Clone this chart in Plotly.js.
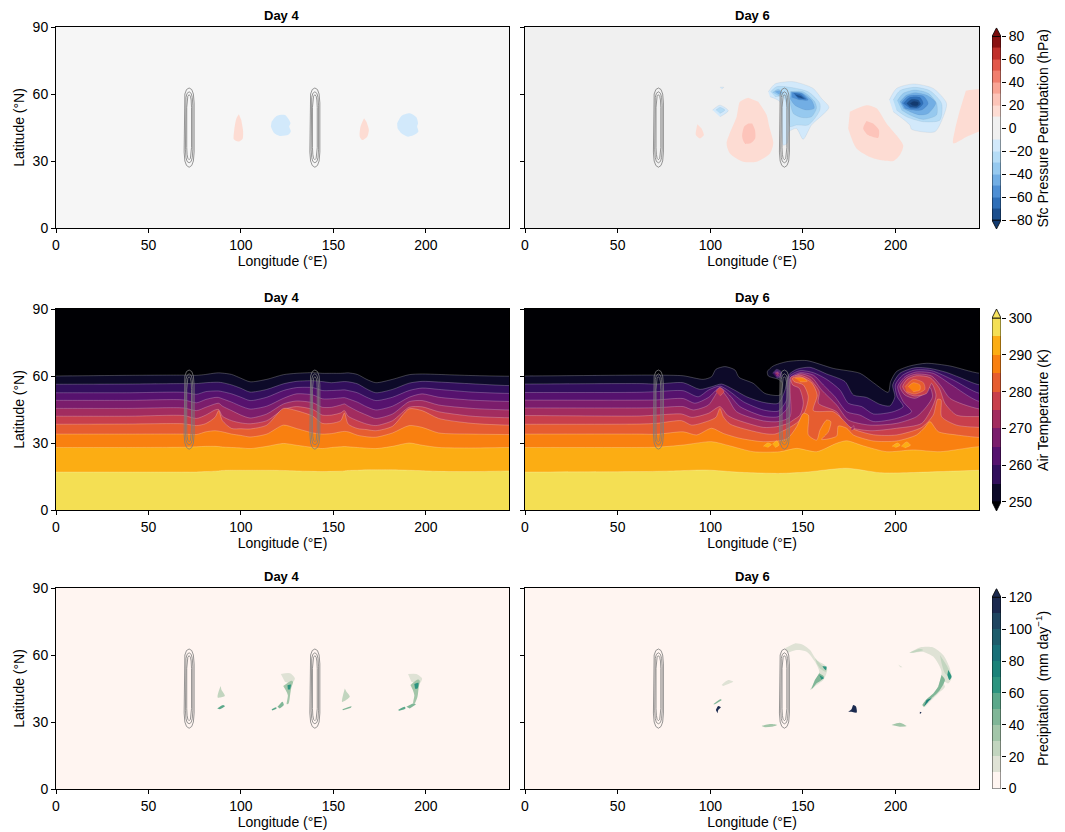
<!DOCTYPE html>
<html><head><meta charset="utf-8">
<script src="https://cdn.plot.ly/plotly-3.0.1.min.js"></script>
<style>html,body{margin:0;padding:0;background:#fff}#chart{width:1065px;height:832px}</style>
</head><body><div id="chart"></div>
<script>
// ---------- axis ticks and labels ----------
const lonTicks=[0,50,100,150,200];
const latTicks=[0,30,60,90];
const panelTitles=['Day 4','Day 6'];
const psfTicks=[-80,-60,-40,-20,0,20,40,60,80];
const tempTicks=[250,260,270,280,290,300];
const precipTicks=[0,20,40,60,80,100,120];

// ---------- colour levels ----------
const psfEdges=[-80,-70,-60,-50,-40,-30,-20,-10,10,20,30,40,50,60,70,80];
const psfColors=['#1c4f8e','#2f6fb8','#4e8fd4','#72aee4','#96c9ef','#b5dcf6','#d2e9fb','#f0f0f0','#fddcd3','#fcc4b8','#f9a595','#f17f6e','#e2584a','#c0302b','#8a1212'];
const tempEdges=[250,255,260,265,270,275,280,285,290,295,300];
const tempColors=['#0d0a29','#320f5c','#56126e','#7b1d6c','#a22c5f','#c83f4c','#e65d30','#f98010','#fcad13','#f4df53'];
const precipEdges=[0,10,20,30,40,50,60,70,80,90,100,110,120];
const precipColors=['#fff5f1','#dfe2d5','#c2d5bf','#a3c6a9','#80b697','#5ba88a','#2c947f','#1b8279','#187078','#1d5c6b','#1f4560','#1b2a4f'];

// ---------- orography outlines (offset from ridge centre, lat) ----------
const ridgeCenters=[72,140];
const ridgeOuterDLon=[0,1.4,2.3,2.7,2.7,2.3,1.4,0,-1.4,-2.3,-2.7,-2.7,-2.3,-1.4,0];
const ridgeOuterLat=[62.7,62,60,56,34,30,28,27.2,28,30,34,56,60,62,62.7];
const ridgeMidDLon=[0,1.1,1.7,2,2,1.7,1.1,0,-1.1,-1.7,-2,-2,-1.7,-1.1,0];
const ridgeMidLat=[61,60.3,58.5,55,35,31.5,29.8,29.2,29.8,31.5,35,55,58.5,60.3,61];
const ridgeInnerDLon=[0,0.7,1.1,1.3,1.3,1.1,0.7,0,-0.7,-1.1,-1.3,-1.3,-1.1,-0.7,0];
const ridgeInnerLat=[59.7,59,57.3,54,36,33,31.2,30.6,31.2,33,36,54,57.3,59,59.7];

// ---------- air temperature, Day 4 ----------
const tD4Lon=[0,40,69,76,81,86,88,90,95,100,105,114,123,130,139,144,149,154,156,158,163,168,173,182,191,198,207,225,245];
const tD4L250=[60,60.3,60.4,60.3,60.7,61.3,61.4,61.3,60.7,59,57.4,58.5,60.6,61.2,61.5,61.2,61.2,61.2,61.3,61.4,60.7,58.5,57,58.5,60.6,60.9,60.7,60.2,59.9];
const tD4L255=[56.3,56.4,56.6,56.6,57,57.2,57.2,57,56,54.5,52.8,54,56.5,57.6,57.9,57.5,57,57.4,57.5,57.4,56.5,54.2,52.5,54,56.8,57.6,57.3,56.5,55.7];
const tD4L260=[52.5,52.5,52.7,51.8,53,53.3,53.3,53,52,50.5,49,50.5,53.5,54.8,54.8,53.5,53.5,53.7,53.8,53.5,52.5,50.5,49,50.5,53.5,54.6,54,52.8,52.2];
const tD4L265=[49.1,49.1,49.3,48,49.5,50.4,50.4,49.8,48.3,46.5,45.2,46.5,50,52,51.5,49.8,49.8,50.2,50.3,49.8,48.3,46.2,44.8,46.5,50.5,52,50.5,49.2,48.6];
const tD4L270=[45.5,45.5,45.7,44.5,46,47.5,47.8,46.5,44.5,42.5,41.2,43,47.5,48.8,48,46,46,47,47.5,46.5,44.3,42.5,41,43,48.5,49,47,45.5,44.8];
const tD4L275=[42,42,42.3,41,42.5,44.8,45,42,40,39,38.6,40,45,46.3,45,42.5,42.5,43.5,44.5,42,40,38.5,37.8,40,46,46.2,44,42,41.3];
const tD4L280=[38.4,38.5,38.6,37.8,38.7,41.5,44.5,40,36.5,36.4,36.3,38,45.5,44.5,42,38.8,38.8,40,43.5,38.5,36.5,36,35.5,37.5,45.3,44.5,41,38.8,38];
const tD4L285=[34,34,34,33.8,35,35.5,35.3,35,34,33.4,32.7,34,38,36.5,34.5,34,34.2,35,35.2,35,33.5,32.8,32.6,34.5,37.8,37,34.5,34,33.8];
const tD4L290=[28,28,28.1,28.3,28.5,28.5,28.4,28.2,28,27.8,27.5,28.5,29.8,29,28,27.5,28,28.3,28.4,28.3,28,27.7,27.5,28.5,30,29,28,27.8,28];
const tD4L295=[17,17,17,17,17.2,17.4,17.5,17.7,17.8,17.8,17.8,17.8,17.7,17.5,17.3,17.2,17.3,17.4,17.5,17.7,17.8,18,18,18,17.8,17.6,17.3,17.2,17.5];

// ---------- air temperature, Day 6: isotherm paths ----------
const tD6L250Lon=[0,60,71,85.4,96.2,100.7,103,107.9,113.3,115.5,123.2,129.5,137.6,139,136.7,131.3,130.8,134,141.2,152,166.4,180.8,188,196,197.3,200.5,207.7,216.7,229.3,245.5];
const tD6L250Lat=[60,60.4,60.4,60.1,58.5,59.7,63,64.2,62.7,59.4,56.7,52.2,51.5,56.7,58.5,60,62,64.5,66.4,66.9,63.4,61.2,57,52.7,57.5,62,64.5,65.7,64.5,61.2];
const tD6L255Lon=[0,62,71,85.4,94.4,100.7,106.1,112.4,119.6,128.6,136.7,140.3,142.1,146.6,153.8,162.8,172.7,177.2,184.4,191.5,196.9,199.6,198.4,202.3,210.4,218.5,227.5,234.7,245.5];
const tD6L255Lat=[56.4,56.6,56.4,57,54,55.2,56.4,54,50.7,48.2,47.8,53.7,60.4,63,63.9,60.9,57.5,51.5,50.4,47.3,46.6,50.7,56,61.2,63.7,63.4,61.6,59.3,56];
const tD6L260Lon=[0,62,71,85.4,93.5,99,105.2,110.6,117.8,128.6,136.7,141.2,142.4,148.4,155.6,162.8,170,174.5,181.7,188,198.7,204.1,200.9,199.8,203.8,210.4,219.4,231.1,245.5];
const tD6L260Lat=[52.6,52.7,53,53.4,50.7,53.7,55.5,53,48.5,44.8,44.3,49.3,59.7,62.4,61.5,58.5,53.7,47.8,46.3,43,44,46.3,50.7,56,60.4,62.7,62.4,58.2,52.2];
const tD6L265Lon=[0,62,71,85.4,91.7,99,105.2,110.3,116,128.6,136.7,142.1,143,148.4,155.6,161,167.3,173.6,180.8,188,200.5,208.6,204.1,201.1,205,211,220.3,230.2,245.5];
const tD6L265Lat=[49.2,49.2,49.3,49.9,47.8,50.4,54.8,51.5,46.3,42,41.8,46.3,59,61.5,60.4,56,50.7,44,42.5,39.6,41,44,48.5,55.2,59.7,61.8,61.2,56,48.5];
const tD6L270Lon=[0,62,71,85.4,90.8,99,105.2,109.2,114.2,128.6,136.7,143,143.4,148.4,154.7,160.1,168.2,174.5,186.2,200.5,211.3,216.7,219.9,218.5,214.9,210.4,205,202.3,205.9,211.3,219.4,224.8,229.3,245.5];
const tD6L270Lat=[45.7,45.7,45.8,46.3,44.8,47,54,50.4,44,39.9,39.6,41.8,58.2,61,59.4,53.7,47,40.3,38,38.8,41.8,46.3,50.7,54.9,51.8,50,51.5,55.2,59.3,60.9,60,55.2,50,45.2];
const tD6L275Lon=[0,62,71,84.5,90,99,105.2,109.2,113.3,128.6,135.8,142,144.8,148.4,150.2,148,144.4,143.4,148.4,153.8,158.8,158.3,168.2,173.6,186.2,200.5,214.1,220.3,221.8,219.4,216.7,210.4,205.9,203.8,206.3,211.3,218.5,223.6,226.6,232.9,245.5];
const tD6L275Lat=[42.3,42.1,42.5,43,41.5,43.3,46.3,42.5,40.7,37,37.3,38.8,40.3,42.5,47.8,54.5,56,59.4,60.4,58.5,53,47.8,44,37.6,35.5,36.6,38.8,47,51.5,56.7,52.2,51,52.5,55.2,58.5,60.1,59.3,54.5,47.8,42.5,41.8];
const tD6L280Lon=[0,62,71,84.5,90,99,103,105.2,107,110.6,128.6,134.9,142,147.5,151,152.9,150.2,145.2,144.3,148.4,154.7,157.7,155.6,166.4,170.9,176.3,188,200.5,214.1,220.3,222.7,224.5,224.8,232.9,245.5];
const tD6L280Lat=[38.4,38.5,38.8,40,38,39.9,41.5,45.5,41.8,38.5,34.3,34,36.6,39.6,44,50.7,56,57.5,59,59.7,57,51.5,44.5,44,41,36.6,33.7,33.6,37,42.5,49.6,49.3,41.8,38,37];
const tD6L285Lon=[0,62,71,85.4,92.6,100.7,107,116,128.6,141.2,146.6,150.2,152.9,152.9,157.4,159.2,162.8,165,163.7,160.1,168.2,169.1,173.6,177.2,188,200.5,211.3,215.8,218.5,223,232.9,245.5];
const tD6L285Lat=[34,34,33.9,35,33.6,36.6,34.3,32.1,30.6,31.8,37.3,43.3,42.5,33.6,31.3,35.8,40.3,39.6,35,31.6,33.1,37.6,36.6,33.6,30.9,30.9,33.6,37,39.6,35.1,33.6,32.5];
const tD6L290Lon=[0,62,71,85.4,100.7,110.6,123.2,137.6,146.6,157.4,168.2,173.6,182.6,195.2,209.5,224,245.5];
const tD6L290Lat=[28,28,28.1,29.1,30.6,28.7,26.1,26.1,27.6,26.1,29.9,31,28.7,26.1,26.9,26.1,28.4];
const tD6L295Lon=[0,62,80,98,116,137.6,152,173.6,191.5,206,224,245.5];
const tD6L295Lat=[17,17.2,17.5,17.9,16.9,16.4,17,18.7,16.7,16.7,17.2,17.8];

// Day 6 closed isotherm islands
const tIsoA255Lon=[133.6,135.8,138.3,138.5,135.8], tIsoA255Lat=[61.2,63,61.9,59.4,59];
const tIsoA260Lon=[134.4,135.8,137.8,137.6,135.8], tIsoA260Lat=[61.2,62.4,61.6,59.7,59.5];
const tIsoA265Lon=[134.9,136,137.2,136.9,135.6], tIsoA265Lat=[61.2,61.9,61.2,60.1,60.1];
const tIsoA270Lon=[135.4,136.2,136.7,136], tIsoA270Lat=[61.2,61.6,61.1,60.6];
const tIsoB275Lon=[103,105.2,107.4,105.2], tIsoB275Lat=[53,54.8,53,51];
const tIsoC280Lon=[205,209.5,215,215.8,210.4,205.9], tIsoC280Lat=[55.2,58.5,57,54,51.9,53];
const tIsoC285Lon=[206.8,209.5,213.1,213.1,209.5], tIsoC285Lat=[55.2,57,56,53.7,53];
const tIsoD285Lon=[145.7,150.2,152.3,148.4], tIsoD285Lat=[59.1,59.1,57.6,57.4];
const tSpeckALon=[128.6,131,133,131], tSpeckALat=[28.5,30,29.3,28];
const tSpeckBLon=[133.5,136,137,135], tSpeckBLat=[29.5,31,29,28];
const tSpeckCLon=[198,201,202.5,200], tSpeckCLat=[28.5,30,29,28];
const tSpeckDLon=[203,206,208,205], tSpeckDLat=[28.5,30.5,29,27.8];
const tSpeckELon=[176,177.5,177.5,176.3], tSpeckELat=[36.6,37.8,36.3,35.6];

// ---------- surface pressure perturbation, Day 4 ----------
const pD4aLon=[98.9,97.6,96.4,96.2,98.5,100.9,101.2,100.2], pD4aLat=[50.9,49.1,43.9,39.7,38.7,39.9,43.2,48.4];
const pD4bLon=[116.6,119.3,123.8,126.1,126.8,126.1,127,125.6,121.1,117.8,116.2], pD4bLat=[47.6,50.2,50.6,48.4,46.9,45.4,43.2,41.7,41.2,42.7,45.4];
const pD4cLon=[166.6,164.7,164.3,165.7,168.3,169.2,167.9], pD4cLat=[49.1,45.4,40.9,39.4,40.9,43.9,47.6];
const pD4dLon=[184.5,186.8,191.3,194.9,195.8,195.3,196,194.6,190.4,186.8,184.7], pD4dLat=[46.9,50.2,51.4,49.6,46.9,45.4,43.2,42.1,40.9,42.4,44.7];

// ---------- surface pressure perturbation, Day 6 ----------
const pD6High1Lon=[120.5,116,114.2,108.8,110.6,117.8,125,132.2,134,131.8,130.4,125.9], pD6High1Lat=[58.3,56.5,49.8,37.9,33.4,29.7,29.7,33.4,37.9,45.4,50.6,56.5];
const pD6High1InLon=[120.5,118.3,117.2,118.7,121.7,124.2,124.1,122.6], pD6High1InLat=[46.8,45.4,40.9,37.9,37.9,40.1,43.9,46.8];
const pD6High2Lon=[93,92.2,94.4,96.5,95.3], pD6High2Lat=[46.5,41.6,40.1,41.6,44.6];
const pD6High3Lon=[175.3,184.3,189.7,195.1,204.1,202.3,198.7,187.9,178.9,174.4], pD6High3Lat=[52.1,55,53.6,46.8,37.1,32.7,30,31.2,35.6,44.6];
const pD6High3InLon=[184.3,182.5,185.2,190.6,191,187.9], pD6High3InLat=[47.9,44.6,41.6,40.4,43.9,46.8];
const pD6High4Lon=[237.9,243.7,250,250,238.3,231.1,232,234.7], pD6High4Lat=[61.5,62.1,62,46,40.9,37.9,43.9,52.8];
const pD6LowA10Lon=[131.3,134.9,144.8,155.5,160,164,154.6,150.1,146.5,142.6,141.5,139.4,138.5,137.6,132.2], pD6LowA10Lat=[61,64.5,65.5,62.5,58,54,46.1,39.7,44.6,43.1,37.9,37.1,45.4,56.5,58.8];
const pD6LowA20Lon=[132.5,135.8,143,152.8,159.1,159.1,156.4,152.8,146.5,143,142,139.4,134.9], pD6LowA20Lat=[61,63.3,63,61,55.8,52.8,49.1,46.1,46.1,45.4,52.8,58.8,58.8];
const pD6LowA30Lon=[142.9,150.1,156.4,157.3,154.6,149.2,144.8,143], pD6LowA30Lat=[61,61,56.5,53.6,49.8,49.5,51.3,56.5];
const pD6LowA30wLon=[133.6,136.7,139.4,136.7], pD6LowA30wLat=[60.7,62.1,60.3,59.2];
const pD6LowA40Lon=[143.5,149.2,154.6,156.1,151.9,145.6,143], pD6LowA40Lat=[61,60.6,57.3,53.6,52.8,55,58];
const pD6LowA40wLon=[134.9,137.2,138.5,136.7], pD6LowA40wLat=[61,61.5,60.6,60];
const pD6LowA50Lon=[143.9,149.2,152.8,148.3,143.9], pD6LowA50Lat=[60.7,60.3,57.3,57.3,58.5];
const pD6LowA60Lon=[144.8,148.7,151.6,147.4], pD6LowA60Lat=[60.4,59.8,57.7,58];
const pD6LowA70Lon=[145.7,148.7,150.5,147.4], pD6LowA70Lat=[59.8,59.1,57.9,58.5];
const pD6LowB10Lon=[101.2,105.2,109.7,105.2], pD6LowB10Lat=[52.8,55,52.5,49.8];
const pD6LowB20Lon=[103,105.2,107.9,105.2], pD6LowB20Lat=[52.8,54,52.8,51.3];
const pD6LowC10Lon=[105.2,107.3,106.1], pD6LowC10Lat=[63,63,62.2];
const pD6LowD10Lon=[196.6,200.5,209.5,220.3,227.5,225.7,221.2,208.6,207.7,198.7], pD6LowD10Lat=[57.3,62.5,64.5,62.5,55.8,49.8,43.1,44.2,46.1,52.1];
const pD6LowD20Lon=[198.7,202.3,210.4,218.5,224.8,223.9,214.9,205.9,200.5], pD6LowD20Lat=[57.3,61.5,63,61.5,55.8,48.3,47.6,49.8,52.8];
const pD6LowD30Lon=[200.9,204.1,210.4,217.6,222.1,222.1,214.9,207.7,203.2], pD6LowD30Lat=[57,60.3,61.8,60.3,55.8,50.6,48.6,50.6,52.8];
const pD6LowD40Lon=[202.3,205.9,210.4,216.7,221.7,217.6,213.1,207.7,204.1], pD6LowD40Lat=[56.5,59.5,60.6,59.5,56.1,51.3,50.6,52.1,53.6];
const pD6LowD50Lon=[203.2,206.8,214.9,217.6,214,208.6,205], pD6LowD50Lat=[56.1,59.1,59.1,55.8,52.8,52.8,53.6];
const pD6LowD60Lon=[204.1,207.7,213.1,214.9,212.2,207.7], pD6LowD60Lat=[55.8,58.5,58.5,55.8,53.6,53.6];
const pD6LowD70Lon=[205.9,208.6,212.2,213.5,211.3,207.7], pD6LowD70Lat=[55.8,57.6,57.3,55.5,54,54.3];
const pD6LowD80Lon=[207.7,209.9,212.4,211.7,209.2], pD6LowD80Lat=[55.8,56.7,56.1,54.9,54.8];

// ---------- precipitation, Day 4 ----------
const rD4aLon=[89,87.4,91.3,89.5], rD4aLat=[46.1,41,41.6,44.3];
const rD4bLon=[87.2,90.4,91.3,88.6], rD4bLat=[36.1,37.6,37.1,35.7];
const rD4cLon=[121.6,126.5,129.2,127.4,123.8], rD4cLat=[51.5,51.8,49.5,47.3,48];
const rD4dLon=[122.9,127.4,128.2,127.2,126.6,125.8,124.8,125.4,124.2], rD4dLat=[46.1,48.5,48,45.1,42,38.3,38,42,44.3];
const rD4eLon=[125.2,127,126.5,125.4], rD4eLat=[46.4,46.8,44.6,44.6];
const rD4fLon=[116.6,119,119.3,117], rD4fLat=[35.7,36.6,36,35.2];
const rD4f2Lon=[119.8,122.5,123.2,121], rD4f2Lat=[36.8,39.1,37.6,36.1];
const rD4gLon=[156.2,154.7,158.9,157.1], rD4gLat=[45,39,41.3,43.6];
const rD4hLon=[154.9,159.8,159.6,155.2], rD4hLat=[35.7,37,36.5,35.3];
const rD4iLon=[190.4,194.9,198,196.7,192.2], rD4iLat=[51.5,51.5,49.5,47.3,48];
const rD4jLon=[191.7,195.8,196.7,196.1,195.5,194,193.2,193.8,193], rD4jLat=[46.6,49,48.5,45,41.3,38.3,38.3,42,44.3];
const rD4kLon=[193.8,196,195.5,194.2], rD4kLat=[47,47.6,45,44.9];
const rD4lLon=[185,188.6,189,185.6], rD4lLat=[35.4,36.8,36,35];
const rD4l2Lon=[189.5,193.1,194.6,191.3], rD4l2Lat=[36.8,38.3,38,36.1];

// ---------- precipitation, Day 6 ----------
const rD6aLon=[140.3,145.7,150.2,153.8,157.4,161.8,163.1,161,157.4,153.8,156.4,158.8,156.5,152,146.6,142.1], rD6aLat=[63,65.2,64.5,62.2,57.8,55.5,53.3,48.8,46.6,44.3,48,52.5,57,61.5,62.2,61];
const rD6bLon=[156.5,160,162.7,162.4,159.2,157.4], rD6bLat=[58.5,55.5,54,52.5,54,56.3];
const rD6cLon=[158.8,161.3,160,157.4,154.6,156.4], rD6cLat=[51.8,50.3,48.8,47.3,44.6,48.8];
const rD6dLon=[160.5,162.7,162.4,161.3], rD6dLat=[55,54.8,53.2,54];
const rD6eLon=[158.8,161.3,160], rD6eLat=[51,49.6,49];
const rD6fLon=[101.6,105.5,106.1,102.5], rD6fLat=[38,40.2,39.9,38];
const rD6gLon=[103,104.3,105.7,104.3,103.9], rD6gLat=[35.4,37.2,36.6,35.4,33.9];
const rD6hLon=[106.1,109.7,112.4,110.6,107], rD6hLat=[46.6,48.8,48,47.3,46.1];
const rD6iLon=[127.7,132.2,136.1,133,129.5], rD6iLat=[28.2,29.1,28.7,27.9,27.6];
const rD6jLon=[174.4,176.2,177.1,178.6,179,176.2], rD6jLat=[34.6,35.7,37.6,36.9,34.2,34.6];
const rD6kLon=[207.4,213.1,220.3,225.7,229.3,230.2,228.4,224.8,226.6,223,219.4,215.3,214.5,218.5,222.1,224.8,220.3,214.9], rD6kLat=[61,63.4,63.4,60,54,49.6,47.3,48.8,45.8,42.8,39.9,36.6,37.6,40.6,44.3,52.5,59.3,61.5];
const rD6lLon=[207.4,213.1,214.9,209.5], rD6lLat=[61,62.8,62.2,61];
const rD6mLon=[223.9,228.4,229.3,226.6,224.8], rD6mLat=[60,54,50.3,51.8,56.3];
const rD6nLon=[228.4,230.2,229,227.9], rD6nLat=[53.3,50.3,48.8,51];
const rD6oLon=[224.8,226.6,223.9,219.4,216.7,215.3,214.5,216.7,220.3,223], rD6oLat=[51,48.8,44.3,40.6,39.1,36.9,37.6,40.2,42.8,45.8];
const rD6pLon=[216.7,219.4,217.6,215.3], rD6pLat=[39.9,40.6,39.1,36.9];
const rD6qLon=[213.1,214,213.1], rD6qLat=[34.6,34.2,33.6];
const rD6rLon=[197.8,202.3,205.9,202.3], rD6rLat=[28.7,29.7,28.2,27.9];
const rD6sLon=[201.4,203.7,202.5], rD6sLat=[55.8,54.5,54.5];

// ---------- tables built from the arrays ----------
const panelLon=[0,245,245,0], panelLat=[0,0,90,90];
const psfD4=[[10,pD4aLon,pD4aLat],[-10,pD4bLon,pD4bLat],[10,pD4cLon,pD4cLat],[-10,pD4dLon,pD4dLat]];
const psfD6=[[10,pD6High1Lon,pD6High1Lat],[20,pD6High1InLon,pD6High1InLat],[10,pD6High2Lon,pD6High2Lat],[10,pD6High3Lon,pD6High3Lat],[20,pD6High3InLon,pD6High3InLat],[10,pD6High4Lon,pD6High4Lat],
[-10,pD6LowA10Lon,pD6LowA10Lat],[-20,pD6LowA20Lon,pD6LowA20Lat],[-30,pD6LowA30Lon,pD6LowA30Lat],[-30,pD6LowA30wLon,pD6LowA30wLat],[-40,pD6LowA40Lon,pD6LowA40Lat],[-40,pD6LowA40wLon,pD6LowA40wLat],[-50,pD6LowA50Lon,pD6LowA50Lat],[-60,pD6LowA60Lon,pD6LowA60Lat],[-70,pD6LowA70Lon,pD6LowA70Lat],
[-10,pD6LowB10Lon,pD6LowB10Lat],[-20,pD6LowB20Lon,pD6LowB20Lat],[-10,pD6LowC10Lon,pD6LowC10Lat],
[-10,pD6LowD10Lon,pD6LowD10Lat],[-20,pD6LowD20Lon,pD6LowD20Lat],[-30,pD6LowD30Lon,pD6LowD30Lat],[-40,pD6LowD40Lon,pD6LowD40Lat],[-50,pD6LowD50Lon,pD6LowD50Lat],[-60,pD6LowD60Lon,pD6LowD60Lat],[-70,pD6LowD70Lon,pD6LowD70Lat],[-80,pD6LowD80Lon,pD6LowD80Lat]];
const psfColorOf={'-10':'#d2e9fb','-20':'#b5dcf6','-30':'#96c9ef','-40':'#72aee4','-50':'#4e8fd4','-60':'#2f6fb8','-70':'#1c4f8e','-80':'#123a70','10':'#fddcd3','20':'#fdc4ba'};
const tD4Levels=[tD4L250,tD4L255,tD4L260,tD4L265,tD4L270,tD4L275,tD4L280,tD4L285,tD4L290,tD4L295];
const tD6Levels=[[tD6L250Lon,tD6L250Lat],[tD6L255Lon,tD6L255Lat],[tD6L260Lon,tD6L260Lat],[tD6L265Lon,tD6L265Lat],[tD6L270Lon,tD6L270Lat],[tD6L275Lon,tD6L275Lat],[tD6L280Lon,tD6L280Lat],[tD6L285Lon,tD6L285Lat],[tD6L290Lon,tD6L290Lat],[tD6L295Lon,tD6L295Lat]];
const tD6Islands=[[],[[tIsoA255Lon,tIsoA255Lat]],[[tIsoA260Lon,tIsoA260Lat]],[[tIsoA265Lon,tIsoA265Lat]],[[tIsoA270Lon,tIsoA270Lat]],[[tIsoB275Lon,tIsoB275Lat]],[[tIsoC280Lon,tIsoC280Lat]],[[tIsoC285Lon,tIsoC285Lat],[tIsoD285Lon,tIsoD285Lat]],[[tSpeckALon,tSpeckALat],[tSpeckBLon,tSpeckBLat],[tSpeckCLon,tSpeckCLat],[tSpeckDLon,tSpeckDLat]],[]];
const rainD4=[[20,rD4aLon,rD4aLat],[50,rD4bLon,rD4bLat],[10,rD4cLon,rD4cLat],[30,rD4dLon,rD4dLat],[60,rD4eLon,rD4eLat],[50,rD4fLon,rD4fLat],[40,rD4f2Lon,rD4f2Lat],[20,rD4gLon,rD4gLat],[40,rD4hLon,rD4hLat],[10,rD4iLon,rD4iLat],[30,rD4jLon,rD4jLat],[60,rD4kLon,rD4kLat],[50,rD4lLon,rD4lLat],[40,rD4l2Lon,rD4l2Lat]];
const rainD6=[[10,rD6aLon,rD6aLat],[20,rD6bLon,rD6bLat],[40,rD6cLon,rD6cLat],[60,rD6dLon,rD6dLat],[60,rD6eLon,rD6eLat],[40,rD6fLon,rD6fLat],[110,rD6gLon,rD6gLat],[10,rD6hLon,rD6hLat],[30,rD6iLon,rD6iLat],[110,rD6jLon,rD6jLat],[10,rD6kLon,rD6kLat],[20,rD6lLon,rD6lLat],[20,rD6mLon,rD6mLat],[60,rD6nLon,rD6nLat],[40,rD6oLon,rD6oLat],[70,rD6pLon,rD6pLat],[110,rD6qLon,rD6qLat],[30,rD6rLon,rD6rLat],[10,rD6sLon,rD6sLat]];

// ---------- figure ----------
const W=1065,H=832;
const rows=[[27,228],[309,510],[588,789]];
const cols=[[56,509],[525,979]];
const FONT='Liberation Sans, Arial, sans-serif';
const traces=[];
const axisName=(p,i)=>p+(i===1?'':i);
function poly(n,lon,lat,color,line,width,straight){
  traces.push({type:'scatter',mode:'lines',x:lon,y:lat,xaxis:axisName('x',n),yaxis:axisName('y',n),fill:'toself',fillcolor:color,
    line:{color:line||color,width:width===undefined?0:width,shape:straight?'linear':'spline',smoothing:0.7},hoverinfo:'skip',showlegend:false});
}
function ridges(n){
  const sets=[[ridgeOuterDLon,ridgeOuterLat],[ridgeMidDLon,ridgeMidLat],[ridgeInnerDLon,ridgeInnerLat]];
  ridgeCenters.forEach(c=>sets.forEach(([d,la])=>{
    traces.push({type:'scatter',mode:'lines',x:d.map(v=>c+v),y:la,xaxis:axisName('x',n),yaxis:axisName('y',n),
      line:{color:'#7c7c7c',width:0.8},hoverinfo:'skip',showlegend:false});
  }));
}
const isoLine='rgba(255,255,255,0.32)';
const closeLon=l=>[-40].concat(l,[285,285,-40]);
const closeLat=l=>[l[0]].concat(l,[l[l.length-1],-30,-30]);

// row 1
poly(1,panelLon,panelLat,'#f6f6f6',undefined,0,true);
psfD4.forEach(([k,lo,la])=>poly(1,lo,la,psfColorOf[k]));
ridges(1);
poly(2,panelLon,panelLat,'#f0f0f0',undefined,0,true);
psfD6.forEach(([k,lo,la])=>poly(2,lo,la,psfColorOf[k],k<0?'rgba(70,90,120,0.16)':undefined,k<0?0.5:0));
ridges(2);
// row 2
poly(3,panelLon,panelLat,'#000004',undefined,0,true);
tD4Levels.forEach((la,i)=>poly(3,closeLon(tD4Lon),closeLat(la),tempColors[i],isoLine,0.7));
ridges(3);
poly(4,panelLon,panelLat,'#000004',undefined,0,true);
tD6Levels.forEach(([lo,la],i)=>{
  poly(4,closeLon(lo),closeLat(la),tempColors[i],isoLine,0.7);
  tD6Islands[i].forEach(([a,b])=>poly(4,a,b,tempColors[i],isoLine,0.5));
});
poly(4,tSpeckELon,tSpeckELat,tempColors[4],isoLine,0.5);
ridges(4);
// row 3
poly(5,panelLon,panelLat,precipColors[0],undefined,0,true);
rainD4.forEach(([k,lo,la])=>poly(5,lo,la,precipColors[k/10]));
ridges(5);
poly(6,panelLon,panelLat,precipColors[0],undefined,0,true);
rainD6.forEach(([k,lo,la])=>poly(6,lo,la,precipColors[k/10]));
ridges(6);

// colour bars
function discrete(colors){const s=[];colors.forEach((c,i)=>{s.push([i/colors.length,c]);s.push([(i+1)/colors.length,c]);});return s;}
function cbar(n,edges,colors){
  traces.push({type:'heatmap',x:[0,1],y:edges,z:colors.map((c,i)=>[i+0.5]),zmin:0,zmax:colors.length,colorscale:discrete(colors),
    showscale:false,hoverinfo:'skip',xaxis:axisName('x',n),yaxis:axisName('y',n)});
}
cbar(7,psfEdges,psfColors);
cbar(8,tempEdges,tempColors);
cbar(9,precipEdges,precipColors);
function tri(n,base,tip,color){
  traces.push({type:'scatter',mode:'lines',x:[0,0.5,1,0],y:[base,tip,base,base],xaxis:axisName('x',n),yaxis:axisName('y',n),fill:'toself',fillcolor:color,line:{color:'#000',width:0.8},hoverinfo:'skip',showlegend:false});
}
function frame(n,lo,hi){
  traces.push({type:'scatter',mode:'lines',x:[0,1,1,0,0],y:[lo,lo,hi,hi,lo],xaxis:axisName('x',n),yaxis:axisName('y',n),line:{color:'#000',width:0.8},hoverinfo:'skip',showlegend:false});
}
frame(7,-80,80);tri(7,80,87.6,'#7a0c0c');tri(7,-80,-87.6,'#123a70');
frame(8,250,300);tri(8,300,302.45,'#f7e45f');tri(8,250,247.55,'#000004');
frame(9,0,120);tri(9,120,125.5,'#1b2a4f');

// layout
const layout={width:W,height:H,margin:{l:0,r:0,t:0,b:0},paper_bgcolor:'#fff',plot_bgcolor:'#fff',showlegend:false,font:{family:FONT,size:14,color:'#000'},annotations:[]};
const X=([a,b])=>[a/W,b/W], Y=([a,b])=>[1-b/H,1-a/H];
let n=1;
rows.forEach(r=>{
  cols.forEach((c,ci)=>{
    const base={showgrid:false,zeroline:false,showline:true,mirror:true,linecolor:'#000',linewidth:1,ticks:'outside',ticklen:4,tickwidth:1,tickcolor:'#000',tickfont:{size:14,family:FONT}};
    layout[n===1?'xaxis':'xaxis'+n]=Object.assign({},base,{domain:X(c),range:[0,245],tickvals:lonTicks,ticktext:lonTicks.map(String),anchor:axisName('y',n),title:{text:'Longitude (°E)',standoff:4,font:{size:14,family:FONT}}});
    const ya={domain:Y(r),range:[0,90],tickvals:latTicks,anchor:axisName('x',n),showticklabels:ci===0};
    if(ci===0) ya.title={text:'Latitude (°N)',standoff:4,font:{size:14,family:FONT}};
    layout[n===1?'yaxis':'yaxis'+n]=Object.assign({},base,ya);
    layout.annotations.push({xref:'paper',yref:'paper',x:(c[0]+c[1])/2/W-(ci===0?1.5/W:0),y:1-(r[0]-2)/H,xanchor:'center',yanchor:'bottom',showarrow:false,text:'<b>'+panelTitles[ci]+'</b>',font:{size:13,family:FONT,color:'#000'}});
    n++;
  });
});
const cbX=[992,1001];
function cbAxes(k,pyTop,pyBot,range,ticks,title,stand){
  layout['xaxis'+k]={domain:X(cbX),range:[0,1],visible:false,fixedrange:true,anchor:'y'+k};
  layout['yaxis'+k]={domain:Y([pyTop,pyBot]),range:range,side:'right',anchor:'x'+k,showgrid:false,zeroline:false,showline:false,ticks:'outside',ticklen:4,tickwidth:1,tickcolor:'#000',tickvals:ticks,tickfont:{size:14,family:FONT},title:{text:title,standoff:stand,font:{size:14,family:FONT}}};
}
cbAxes(7,27.8,229,[-87.6,87.6],psfTicks,'Sfc Pressure Perturbation (hPa)',6);
cbAxes(8,309,511,[247.55,302.45],tempTicks,'Air Temperature (K)',6);
cbAxes(9,588.5,788.5,[0,125.5],precipTicks,'Precipitation  (mm day<sup>−1</sup>)',6);

Plotly.newPlot('chart',traces,layout,{staticPlot:true,displayModeBar:false});
</script></body></html>
